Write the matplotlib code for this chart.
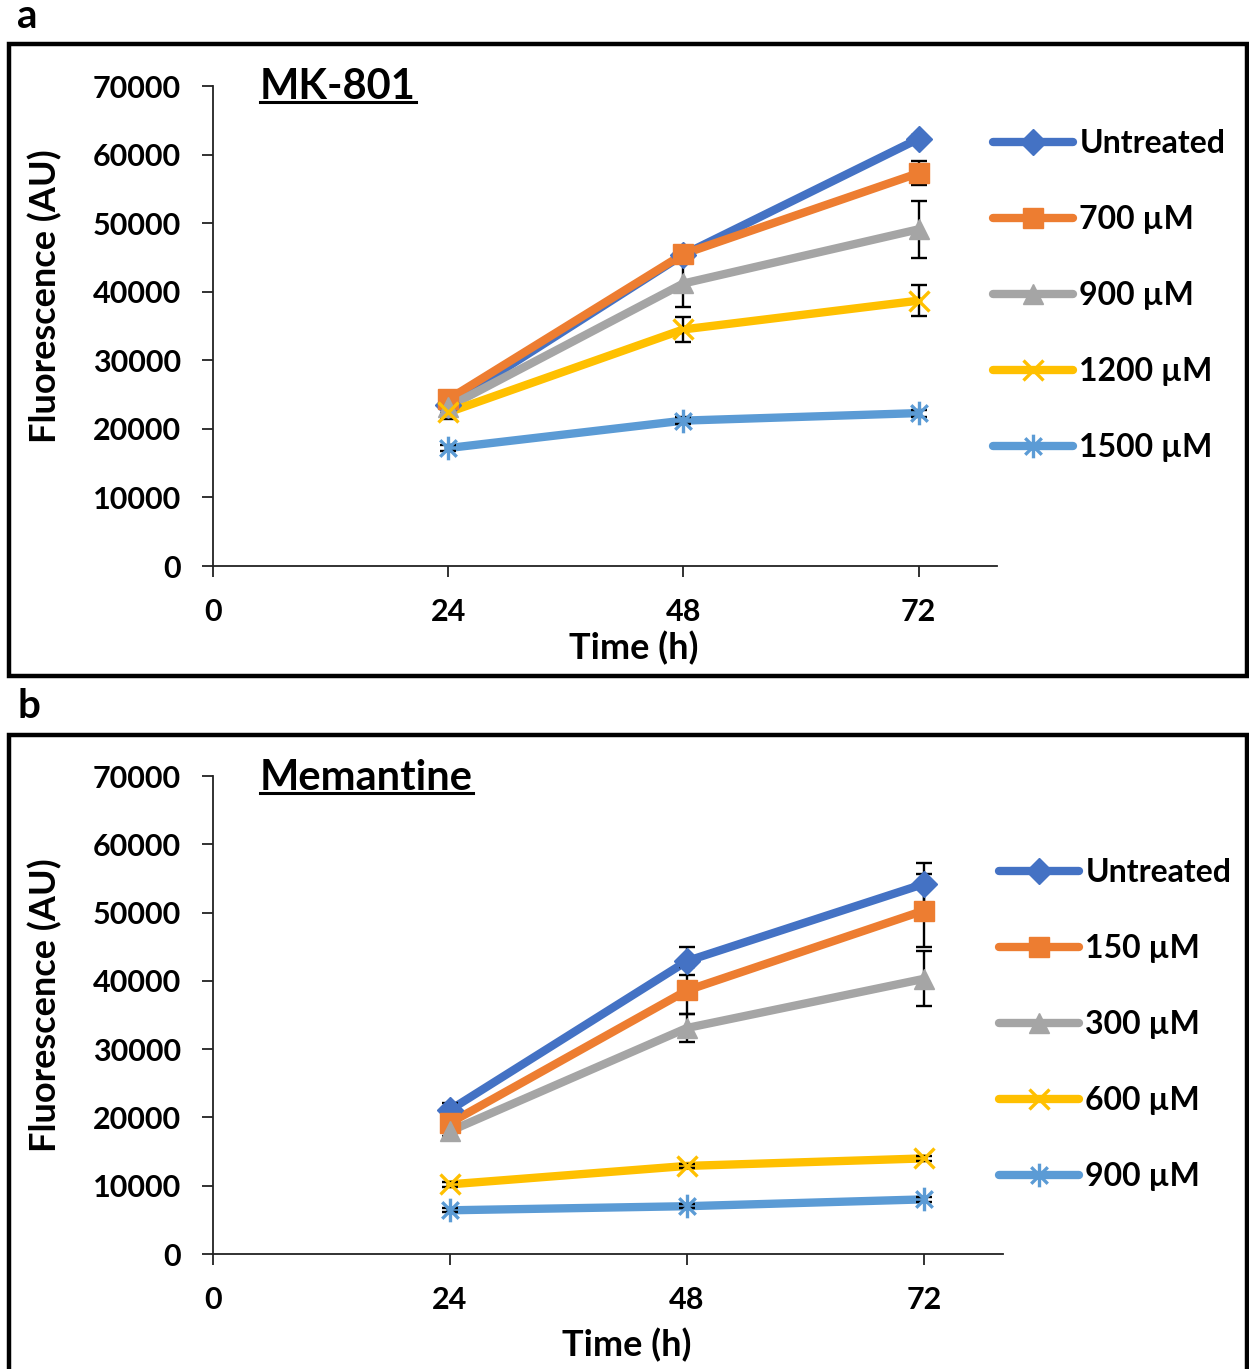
import matplotlib
matplotlib.use("Agg")
import matplotlib.pyplot as plt
from matplotlib.patches import Rectangle
from matplotlib.lines import Line2D
from matplotlib.path import Path

plt.rcParams['font.family'] = ['Lato', 'DejaVu Sans']
plt.rcParams['font.weight'] = 'bold'

# data
times = [24, 48, 72]
x_ticks = [0, 24, 48, 72]
y_ticks = [0, 10000, 20000, 30000, 40000, 50000, 60000, 70000]

labels_a = ['Untreated', '700 µM', '900 µM', '1200 µM', '1500 µM']
untreated_a = [23500, 45400, 62300]
mk700 = [24300, 45500, 57300]
mk900 = [23200, 41200, 49100]
mk1200 = [22400, 34500, 38700]
mk1500 = [17200, 21200, 22300]
untreated_a_err = [500, 700, 600]
mk700_err = [800, 900, 1800]
mk900_err = [900, 3400, 4200]
mk1200_err = [900, 1800, 2300]
mk1500_err = [500, 500, 500]

labels_b = ['Untreated', '150 µM', '300 µM', '600 µM', '900 µM']
untreated_b = [21100, 42900, 54200]
mem150 = [19200, 38600, 50300]
mem300 = [18000, 33100, 40300]
mem600 = [10200, 12900, 14000]
mem900 = [6400, 7000, 8000]
untreated_b_err = [1000, 2000, 3000]
mem150_err = [800, 3500, 5300]
mem300_err = [700, 2000, 4000]
mem600_err = [400, 300, 400]
mem900_err = [300, 300, 400]

# Excel-style star marker: an x with a vertical stroke
star = Path([(-0.7, -0.7), (0.7, 0.7), (-0.7, 0.7), (0.7, -0.7), (0, -1), (0, 1)],
            [Path.MOVETO, Path.LINETO, Path.MOVETO, Path.LINETO, Path.MOVETO, Path.LINETO])

colors = ['#4472C4', '#ED7D31', '#A5A5A5', '#FFC000', '#5B9BD5']
markers = ['D', 's', '^', 'x', star]
msizes = [13, 15, 15, 15, 17]

W, H = 1249, 1369
fig = plt.figure(figsize=(W / 100, H / 100), dpi=100)


def fx(px):
    return px / W


def fy(py):
    return 1 - py / H


def draw_panel(top, bottom, ax_box, series, errs, labels, title, title_pos,
               letter, letter_pos, leg_pos, xlabel_pos, ylabel_pos):
    # panel frame
    fig.add_artist(Rectangle((fx(9), fy(bottom)), fx(1238), fy(top) - fy(bottom),
                             transform=fig.transFigure, fill=False,
                             edgecolor='black', linewidth=3.2, clip_on=False))
    l, t, r, b = ax_box
    ax = fig.add_axes([fx(l), fy(b), fx(r - l), fy(t) - fy(b)])
    for i, (vals, err) in enumerate(zip(series, errs)):
        ax.plot(times, vals, color=colors[i], lw=6, solid_capstyle='round', zorder=2)
        ax.errorbar(times, vals, yerr=err, fmt='none', ecolor='black',
                    elinewidth=1.7, capsize=6, capthick=1.7, zorder=3)
        mew = 2.4 if i >= 3 else 1
        ax.plot(times, vals, ls='none', marker=markers[i], ms=msizes[i],
                color=colors[i], mew=mew, zorder=4)
    ax.set_xlim(0, 80)
    ax.set_ylim(0, 70000)
    ax.set_xticks(x_ticks)
    ax.set_yticks(y_ticks)
    ax.set_xticklabels([str(v) for v in x_ticks])
    ax.set_yticklabels([str(v) for v in y_ticks])
    for s in ['top', 'right']:
        ax.spines[s].set_visible(False)
    for s in ['left', 'bottom']:
        ax.spines[s].set_linewidth(1.3)
        ax.spines[s].set_color('#222222')
    ax.tick_params(axis='both', direction='out', length=8, width=1.3,
                   color='#222222', labelsize=22)
    ax.tick_params(axis='y', pad=15)
    ax.tick_params(axis='x', pad=15)
    for lab in ax.get_xticklabels() + ax.get_yticklabels():
        lab.set_fontweight('bold')

    handles = [Line2D([], [], color=colors[i], lw=6, marker=markers[i],
                      ms=msizes[i], mew=2.4 if i >= 3 else 1,
                      solid_capstyle='round') for i in range(5)]
    leg = fig.legend(handles, labels, loc='upper left',
                     bbox_to_anchor=(fx(leg_pos[0]), fy(leg_pos[1])),
                     frameon=False, fontsize=23, handlelength=2.5,
                     handletextpad=0.2, labelspacing=1.47, borderpad=0,
                     borderaxespad=0)
    for txt in leg.get_texts():
        txt.set_fontweight('bold')

    fig.text(fx(xlabel_pos[0]), fy(xlabel_pos[1]), 'Time (h)', ha='center',
             va='center', fontsize=26, fontweight='bold')
    fig.text(fx(ylabel_pos[0]), fy(ylabel_pos[1]), 'Fluorescence (AU)',
             ha='center', va='center', rotation=90, fontsize=26,
             fontweight='bold')
    tt = fig.text(fx(title_pos[0]), fy(title_pos[1]), title, ha='left',
                  va='center', fontsize=30, fontweight='bold')
    fig.text(fx(letter_pos[0]), fy(letter_pos[1]), letter, ha='left',
             va='center', fontsize=29, fontweight='bold')
    return tt


t1 = draw_panel(44, 676, (213, 86, 997, 566),
                [untreated_a, mk700, mk900, mk1200, mk1500],
                [untreated_a_err, mk700_err, mk900_err, mk1200_err, mk1500_err],
                labels_a, 'MK-801', (260, 87), 'a', (17, 16), (993, 129),
                (634, 648), (45, 296))
t2 = draw_panel(735, 1375, (213, 776, 1003, 1254),
                [untreated_b, mem150, mem300, mem600, mem900],
                [untreated_b_err, mem150_err, mem300_err, mem600_err, mem900_err],
                labels_b, 'Memantine', (260, 778), 'b', (18, 706), (999, 858),
                (627, 1345), (45, 1005))

# underline the panel titles
fig.canvas.draw()
renderer = fig.canvas.get_renderer()
for tt in (t1, t2):
    bb = tt.get_window_extent(renderer).transformed(fig.transFigure.inverted())
    yline = bb.y0 + 0.003
    fig.add_artist(Line2D([bb.x0, bb.x1], [yline, yline], color='black',
                          lw=2.2, transform=fig.transFigure))

fig.savefig('out.png', dpi=100)
